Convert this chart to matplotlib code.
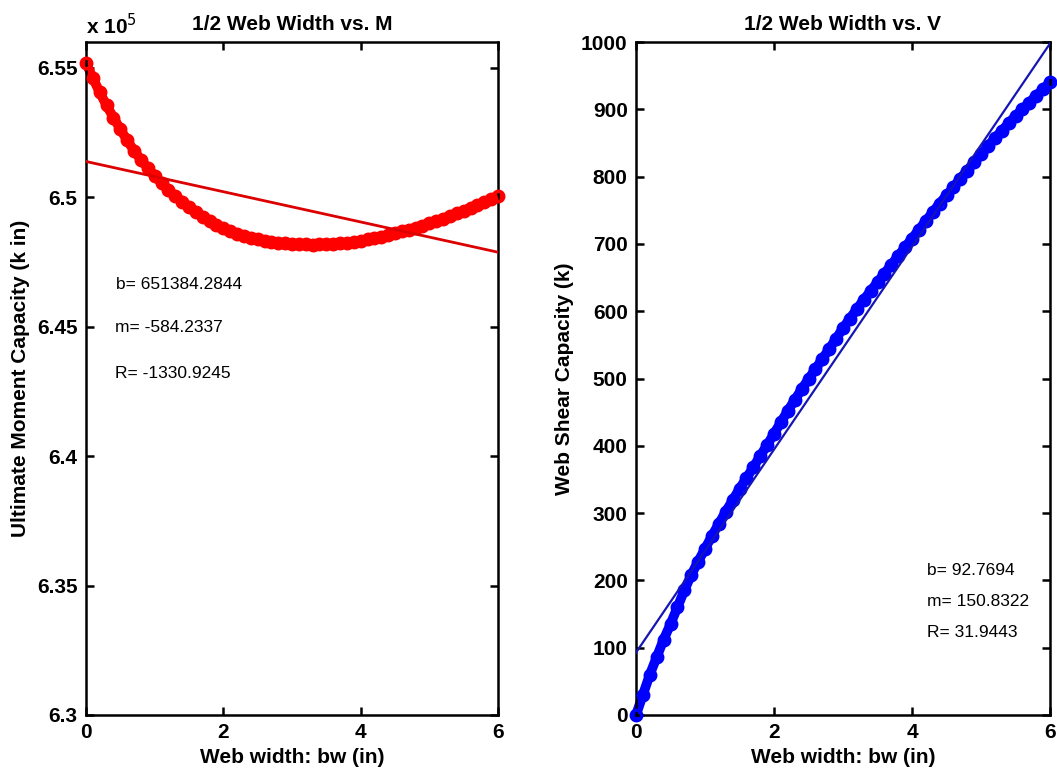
import matplotlib
matplotlib.use("Agg")
import matplotlib.pyplot as plt
from matplotlib.ticker import FuncFormatter

plt.rcParams['font.family'] = ['Liberation Sans', 'DejaVu Sans']

# ---------------- data ----------------
bw = [0.0, 0.1, 0.2, 0.3, 0.4, 0.5, 0.6, 0.7, 0.8, 0.9,
      1.0, 1.1, 1.2, 1.3, 1.4, 1.5, 1.6, 1.7, 1.8, 1.9,
      2.0, 2.1, 2.2, 2.3, 2.4, 2.5, 2.6, 2.7, 2.8, 2.9,
      3.0, 3.1, 3.2, 3.3, 3.4, 3.5, 3.6, 3.7, 3.8, 3.9,
      4.0, 4.1, 4.2, 4.3, 4.4, 4.5, 4.6, 4.7, 4.8, 4.9,
      5.0, 5.1, 5.2, 5.3, 5.4, 5.5, 5.6, 5.7, 5.8, 5.9, 6.0]

moment = [655200, 654610, 654050, 653550, 653080, 652630, 652200, 651800, 651450, 651130,
          650830, 650550, 650290, 650050, 649830, 649620, 649420, 649240, 649080, 648930,
          648800, 648690, 648600, 648510, 648440, 648380, 648330, 648290, 648250, 648220,
          648200, 648190, 648180, 648175, 648180, 648190, 648200, 648220, 648250, 648280,
          648320, 648370, 648420, 648480, 648540, 648610, 648680, 648750, 648830, 648910,
          649000, 649090, 649180, 649280, 649380, 649480, 649590, 649700, 649810, 649930,
          650050]

shear = [0, 30, 60, 86, 112, 135, 160, 185, 208, 228,
         247, 266, 284, 302, 319, 336, 352, 368, 385, 401,
         418, 435, 452, 468, 484, 499, 514, 529, 544, 559,
         575, 589, 603, 617, 630, 643, 656, 669, 682, 695,
         708, 721, 734, 747, 760, 772, 784, 797, 809, 821,
         833, 845, 857, 868, 879, 890, 900, 910, 920, 930,
         940]

m_fit_b, m_fit_m, m_fit_R = 651384.2844, -584.2337, -1330.9245
v_fit_b, v_fit_m, v_fit_R = 92.7694, 150.8322, 31.9443

x_ticks = [0, 2, 4, 6]
m_yticks = [6.30e5, 6.35e5, 6.40e5, 6.45e5, 6.50e5, 6.55e5]
v_yticks = [0, 100, 200, 300, 400, 500, 600, 700, 800, 900, 1000]

titles = ["1/2 Web Width vs. M", "1/2 Web Width vs. V"]
xlabel = "Web width: bw (in)"
ylabels = ["Ultimate Moment Capacity (k in)", "Web Shear Capacity (k)"]

# ---------------- figure ----------------
W, H = 1057, 773
fig = plt.figure(figsize=(W / 100, H / 100), dpi=100)
ax1 = fig.add_axes([86 / W, (H - 715) / H, 412 / W, 673 / H])
ax2 = fig.add_axes([636 / W, (H - 715) / H, 414 / W, 673 / H])

FS = 15
AFS = 12.5

def style(ax):
    for s in ax.spines.values():
        s.set_linewidth(1.8)
    ax.tick_params(direction='in', length=6, width=1.8, top=True, right=True,
                   labelsize=FS, pad=6)
    for lab in ax.get_xticklabels() + ax.get_yticklabels():
        lab.set_fontweight('bold')

# Left: moment
ax1.plot(bw, moment, color='red', lw=7, solid_capstyle='round', zorder=2, clip_on=False)
ax1.plot(bw, moment, 'o', color='red', ms=7.5, mew=2.5, mfc='none', zorder=3, clip_on=False)
fx = [x_ticks[0], x_ticks[-1]]
ax1.plot(fx, [m_fit_b + m_fit_m * v for v in fx], color='#dd0000', lw=2, zorder=4)
ax1.set_xlim(0, 6)
ax1.set_ylim(6.30e5, 6.56e5)
ax1.set_xticks(x_ticks)
ax1.set_yticks(m_yticks)
ax1.yaxis.set_major_formatter(FuncFormatter(lambda v, p: f"{v / 1e5:g}"))
ax1.set_title(titles[0], fontsize=FS, fontweight='bold', pad=9)
ax1.set_xlabel(xlabel, fontsize=FS, fontweight='bold', labelpad=4)
ax1.set_ylabel(ylabels[0], fontsize=FS, fontweight='bold', labelpad=5)
ax1.text(0.0, 1.005, r"x 10$^{5}$", transform=ax1.transAxes, fontsize=FS,
         fontweight='bold', ha='left', va='bottom')
ax1.text(0.073, 0.639, f"b= {m_fit_b:.4f}", transform=ax1.transAxes, fontsize=AFS, va='center')
ax1.text(0.070, 0.576, f"m= {m_fit_m:.4f}", transform=ax1.transAxes, fontsize=AFS, va='center')
ax1.text(0.070, 0.508, f"R= {m_fit_R:.4f}", transform=ax1.transAxes, fontsize=AFS, va='center')
style(ax1)

# Right: shear
ax2.plot(bw, shear, color='blue', lw=7, solid_capstyle='round', zorder=2, clip_on=False)
ax2.plot(bw, shear, 'o', color='blue', ms=7.5, mew=2.5, mfc='none', zorder=3, clip_on=False)
ax2.plot(fx, [v_fit_b + v_fit_m * v for v in fx], color='#1515b5', lw=1.6, zorder=4)
ax2.set_xlim(0, 6)
ax2.set_ylim(0, 1000)
ax2.set_xticks(x_ticks)
ax2.set_yticks(v_yticks)
ax2.set_title(titles[1], fontsize=FS, fontweight='bold', pad=9)
ax2.set_xlabel(xlabel, fontsize=FS, fontweight='bold', labelpad=4)
ax2.set_ylabel(ylabels[1], fontsize=FS, fontweight='bold', labelpad=5)
ax2.text(0.702, 0.214, f"b= {v_fit_b:.4f}", transform=ax2.transAxes, fontsize=AFS, va='center')
ax2.text(0.702, 0.169, f"m= {v_fit_m:.4f}", transform=ax2.transAxes, fontsize=AFS, va='center')
ax2.text(0.702, 0.122, f"R= {v_fit_R:.4f}", transform=ax2.transAxes, fontsize=AFS, va='center')
style(ax2)

fig.savefig("out.png", dpi=100)
